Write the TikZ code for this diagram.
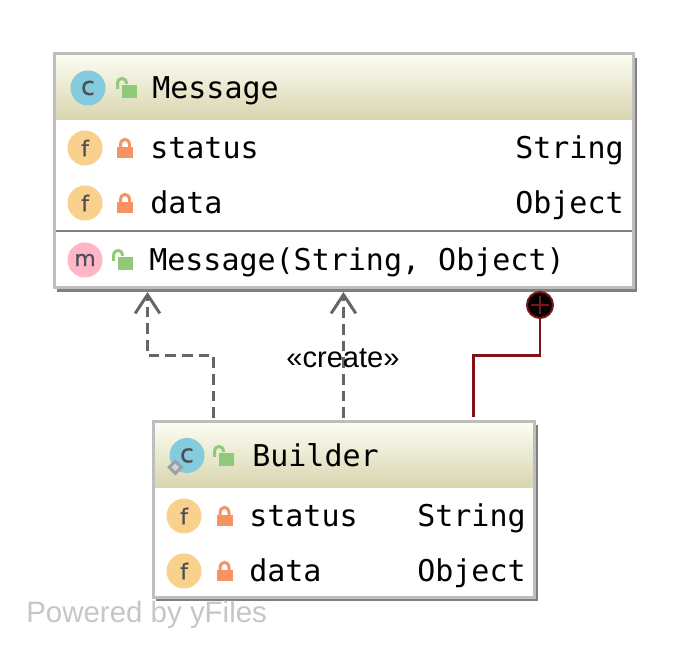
\documentclass[tikz,border=0pt]{standalone}
\usepackage{fontspec}
\setmainfont{Liberation Sans}
\newfontfamily\codefont{DejaVu Sans Mono}
\newfontfamily\glyphfont[FakeBold=0.5]{DejaVu Sans}
\usetikzlibrary{arrows.meta,calc,shapes.geometric}
\definecolor{boxedge}{HTML}{BEBEBE}
\definecolor{boxshade}{HTML}{808080}
\definecolor{headtop}{HTML}{FCFCF2}
\definecolor{headbot}{HTML}{D8D5AE}
\definecolor{classc}{HTML}{84CBDD}
\definecolor{fieldc}{HTML}{F9D18D}
\definecolor{methc}{HTML}{FFB6C6}
\definecolor{lockg}{HTML}{90C978}
\definecolor{lockr}{HTML}{F79263}
\definecolor{glyph}{HTML}{4C4F55}
\definecolor{depc}{HTML}{666666}
\definecolor{innerc}{HTML}{7F1315}
\definecolor{markc}{HTML}{9BA1A9}
\definecolor{wm}{HTML}{C6C6C6}
\tikzset{
  x=0.75pt,y=-0.75pt,
  umlbox/.style={draw=boxedge,line width=2.25pt,fill=white,inner sep=0pt,rectangle},
  code/.style={font=\codefont\fontsize{22.5}{26}\selectfont,anchor=base west,inner sep=0pt,text=black},
  badge/.style={circle,inner sep=0pt,minimum size=26.25pt,text=glyph,font=\glyphfont\fontsize{16.5}{20}\selectfont},
  cbadge/.style={badge,fill=classc,font=\glyphfont\fontsize{19}{24}\selectfont},
  dep/.style={draw=depc,line width=2.25pt,dash pattern=on 8pt off 4.5pt,-{Straight Barb[length=14pt,width=18.5pt,line width=2.25pt]}},
  lockopen/.pic={
    \fill[lockg] (0,0) rectangle (15,-13);
    \draw[lockg,line width=2.25pt] (-4.5,-9) -- (-4.5,-14) .. controls (-4.5,-21.5) and (4.5,-21.5) .. (4.5,-14);
  },
  lockshut/.pic={
    \fill[lockr] (0,0) rectangle (16,-11);
    \draw[lockr,line width=2.25pt] (3.5,-10) -- (3.5,-13) .. controls (3.5,-20.5) and (12.5,-20.5) .. (12.5,-13) -- (12.5,-10);
  }
}
\begin{document}
\begin{tikzpicture}
\useasboundingbox (0,0) rectangle (687,652);
% Message box
\fill[boxshade] (57,58) rectangle (637,292.5);
\node[umlbox,minimum width=434.25pt,minimum height=175.5pt] (msg) at (344,171) {};
\shade[top color=headtop,bottom color=headbot] (56,55.5) rectangle (632,120);
\draw[boxshade,line width=1.5pt] (56,231) -- (632,231);
\node[cbadge] (mc) at (88,88) {c};
\pic at (122,98) {lockopen};
\node[code] (mt) at (152,99) {Message};
\node[badge,fill=fieldc] (f1) at (85,148) {f};
\pic at (117,158) {lockshut};
\node[code] (f1n) at (150,159) {status};
\node[code] (f1t) at (515,159) {String};
\node[badge,fill=fieldc] (f2) at (85,203) {f};
\pic at (117,213) {lockshut};
\node[code] (f2n) at (150,214) {data};
\node[code] (f2t) at (515,214) {Object};
\node[badge,fill=methc] (m1) at (85,260) {m};
\pic at (118,270) {lockopen};
\node[code] (m1n) at (149,271) {Message(String, Object)};
% Builder box
\fill[boxshade] (156,425) rectangle (538,601.5);
\node[umlbox,minimum width=285.4pt,minimum height=132pt] (bld) at (343.75,510) {};
\shade[top color=headtop,bottom color=headbot] (155,423.5) rectangle (532.5,488);
\node[cbadge] (bc) at (187,455.5) {c};
\node[diamond,fill=markc!45!white,draw=markc,line width=2.25pt,minimum size=10pt,inner sep=0pt] (bm) at (175.3,467.3) {};
\pic at (219,466) {lockopen};
\node[code] (bt) at (252,467) {Builder};
\node[badge,fill=fieldc] (f3) at (184,516) {f};
\pic at (216.5,526) {lockshut};
\node[code] (f3n) at (249,527) {status};
\node[code] (f3t) at (417,527) {String};
\node[badge,fill=fieldc] (f4) at (184,571) {f};
\pic at (216.5,581) {lockshut};
\node[code] (f4n) at (249,582) {data};
\node[code] (f4t) at (417,582) {Object};
% connectors
\coordinate (s1) at (213.5,418);
\coordinate (k1) at (147.5,355.5);
\coordinate (t1) at (147.5,292);
\coordinate (s2) at (343.5,418);
\coordinate (t2) at (343.5,292);
\coordinate (s3) at (473.5,417);
\coordinate (k3) at (540,355.5);
\draw[dep] (s1) |- (k1) -- (t1);
\draw[dep] (s2) -- (t2);
\node[circle,fill=black,draw=innerc,line width=1.5pt,minimum size=19.5pt,inner sep=0pt] (plus) at (540,305) {};
\draw[innerc,line width=2.1pt] (s3) |- (k3) -- (plus.south);
\draw[innerc,line width=1.9pt] (531,305) -- (549,305) (540,296) -- (540,314);
\node[font=\fontsize{21.8}{24}\selectfont,inner sep=0pt,anchor=base,text=black] (lab) at (343,368) {«create»};
\node[font=\fontsize{22.1}{26}\selectfont,inner sep=0pt,anchor=base west,text=wm] (pw) at (26,623) {Powered by yFiles};
\end{tikzpicture}
\end{document}
